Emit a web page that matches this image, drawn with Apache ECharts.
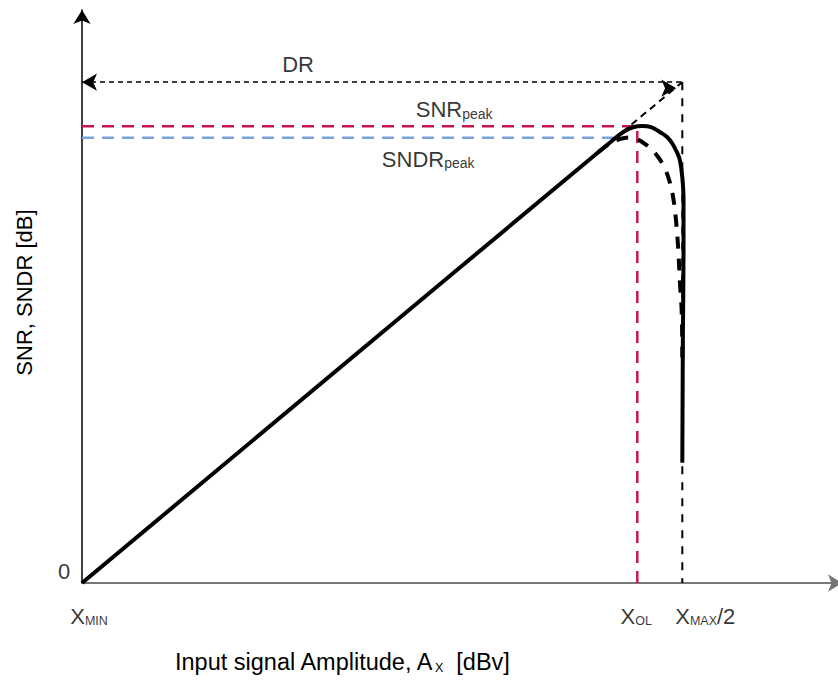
<!DOCTYPE html>
<html lang="en">

<head>
    <meta charset="UTF-8">
    <title>SNR / SNDR vs input amplitude</title>
    <style>
        html, body { margin: 0; padding: 0; background: #fff; }
        #main { width: 838px; height: 680px; }
    </style>
    <script src="https://cdn.jsdelivr.net/npm/echarts@6/dist/echarts.min.js"></script>
</head>

<body>
    <div id="main"></div>

    <script>
        // SNR curve (solid), x in dB above X_MIN, y in dB
        var snrX = [0, 89, 90.5, 91.8, 93.3, 94.8, 96.3, 97.5, 98.3, 99.1, 99.6, 100, 100.2, 100.2, 100.1, 100];
        var snrY = [0, 89, 90.3, 91.0, 91.25, 91.0, 90.0, 89.0, 87.8, 86.0, 84.4, 81, 76.5, 66, 50, 24];

        // SNDR curve (dashed)
        var sndrX = [86, 88, 89.5, 91, 92.3, 93.5, 94.8, 96, 97, 97.8, 98.4, 98.9, 99.3, 99.6, 99.9, 100];
        var sndrY = [86, 87.8, 88.6, 88.95, 88.7, 87.9, 86.7, 85, 83, 80.5, 77.5, 73, 67, 60, 54, 45];

        // key levels
        var snrPeak = 91.2;
        var sndrPeak = 88.9;
        var xOL = 92.5;
        var xMaxHalf = 100;
        var dr = 100;

        var font = 'Liberation Sans, Arial, sans-serif';
        var ink = '#000';

        function pairs(xs, ys) {
            var out = [];
            for (var i = 0; i < xs.length; i++) out.push([xs[i], ys[i]]);
            return out;
        }

        var rich = {
            m: { fontSize: 22, fontFamily: font, fontWeight: 'normal', color: ink, verticalAlign: 'bottom', lineHeight: 25 },
            t: { fontSize: 23.5, fontFamily: font, fontWeight: 'normal', color: ink, verticalAlign: 'bottom', lineHeight: 26 },
            s: { fontSize: 12.5, fontFamily: font, fontWeight: 'normal', color: ink, verticalAlign: 'bottom', lineHeight: 16 },
            p: { fontSize: 14, fontFamily: font, fontWeight: 'normal', color: ink, verticalAlign: 'bottom', lineHeight: 18 }
        };

        function note(x, y, text, offset) {
            return {
                value: [x, y],
                label: { show: true, formatter: text, offset: offset, position: 'inside', color: ink, rich: rich }
            };
        }

        function dashed(data, color, width, dash) {
            return {
                type: 'line',
                data: data,
                symbol: 'none',
                silent: true,
                lineStyle: { color: color, width: width, type: dash }
            };
        }

        var myChart = echarts.init(document.getElementById('main'), null, { renderer: 'svg' });

        var option = {
            animation: false,
            backgroundColor: '#fff',
            title: {
                left: 170,
                top: 643,
                text: '{t|Input signal Amplitude, A}{s|X}{t|  [dBv]}',
                textStyle: { fontWeight: 'normal', rich: rich }
            },
            grid: { left: 82, top: 10, width: 760, height: 573, outerBoundsMode: 'none', containLabel: false },
            xAxis: {
                type: 'value',
                min: 0,
                max: 126.6,
                axisLine: {
                    show: true,
                    symbol: ['none', 'arrow'],
                    symbolSize: [13, 14],
                    lineStyle: { color: '#777', width: 2 }
                },
                axisTick: { show: false },
                axisLabel: { show: false },
                splitLine: { show: false }
            },
            yAxis: {
                type: 'value',
                min: 0,
                max: 114.4,
                offset: 2,
                name: 'SNR, SNDR [dB]',
                nameLocation: 'middle',
                nameRotate: 90,
                nameGap: 45,
                nameTextStyle: { fontSize: 22, fontFamily: font, color: ink, padding: [0, 0, 0, 8] },
                axisLine: {
                    show: true,
                    symbol: ['none', 'arrow'],
                    symbolSize: [13, 14],
                    lineStyle: { color: ink, width: 1.5 }
                },
                axisTick: { show: false },
                axisLabel: { show: false },
                splitLine: { show: false }
            },
            series: [
                // peak reference lines
                dashed([[0, snrPeak], [xOL, snrPeak], [xOL, 0]], '#c8174f', 2.5, [12, 8]),
                dashed([[0, sndrPeak], [90.8, sndrPeak]], '#77a3d8', 2.5, [12, 8]),
                dashed([[xMaxHalf, dr], [xMaxHalf, 0]], ink, 2, [8, 8]),
                dashed([[90, 90], [xMaxHalf, dr]], ink, 2, [7, 5]),
                // DR arrow
                {
                    type: 'line',
                    data: [],
                    silent: true,
                    markLine: {
                        silent: true,
                        symbol: ['arrow', 'arrow'],
                        symbolSize: [13, 15],
                        symbolOffset: [0, 6],
                        label: { show: false },
                        lineStyle: { color: ink, width: 1.5, type: [5, 4] },
                        data: [[{ coord: [0, dr] }, { coord: [xMaxHalf, dr] }]]
                    }
                },
                // SNDR
                {
                    type: 'line',
                    data: pairs(sndrX, sndrY),
                    symbol: 'none',
                    smooth: 0.4,
                    lineStyle: { color: ink, width: 4, type: [12, 10] }
                },
                // SNR
                {
                    type: 'line',
                    data: pairs(snrX, snrY),
                    symbol: 'none',
                    smooth: 0.4,
                    lineStyle: { color: ink, width: 4 }
                },
                // text annotations
                {
                    type: 'scatter',
                    symbolSize: 0,
                    silent: true,
                    data: [
                        note(0, 0, '{m|0}', [-18, -13]),
                        note(0, 0, '{m|X}{s|MIN}', [7, 32]),
                        note(xOL, 0, '{m|X}{s|OL}', [-1, 32]),
                        note(xMaxHalf, 0, '{m|X}{s|MAX}{m|/2}', [23, 32]),
                        note(36, dr, '{m|DR}', [0, -19]),
                        note(62, snrPeak, '{m|SNR}{p|peak}', [0, -18]),
                        note(58, sndrPeak, '{m|SNDR}{p|peak}', [-2, 20])
                    ]
                }
            ]
        };

        myChart.setOption(option);
    </script>
</body>

</html>
